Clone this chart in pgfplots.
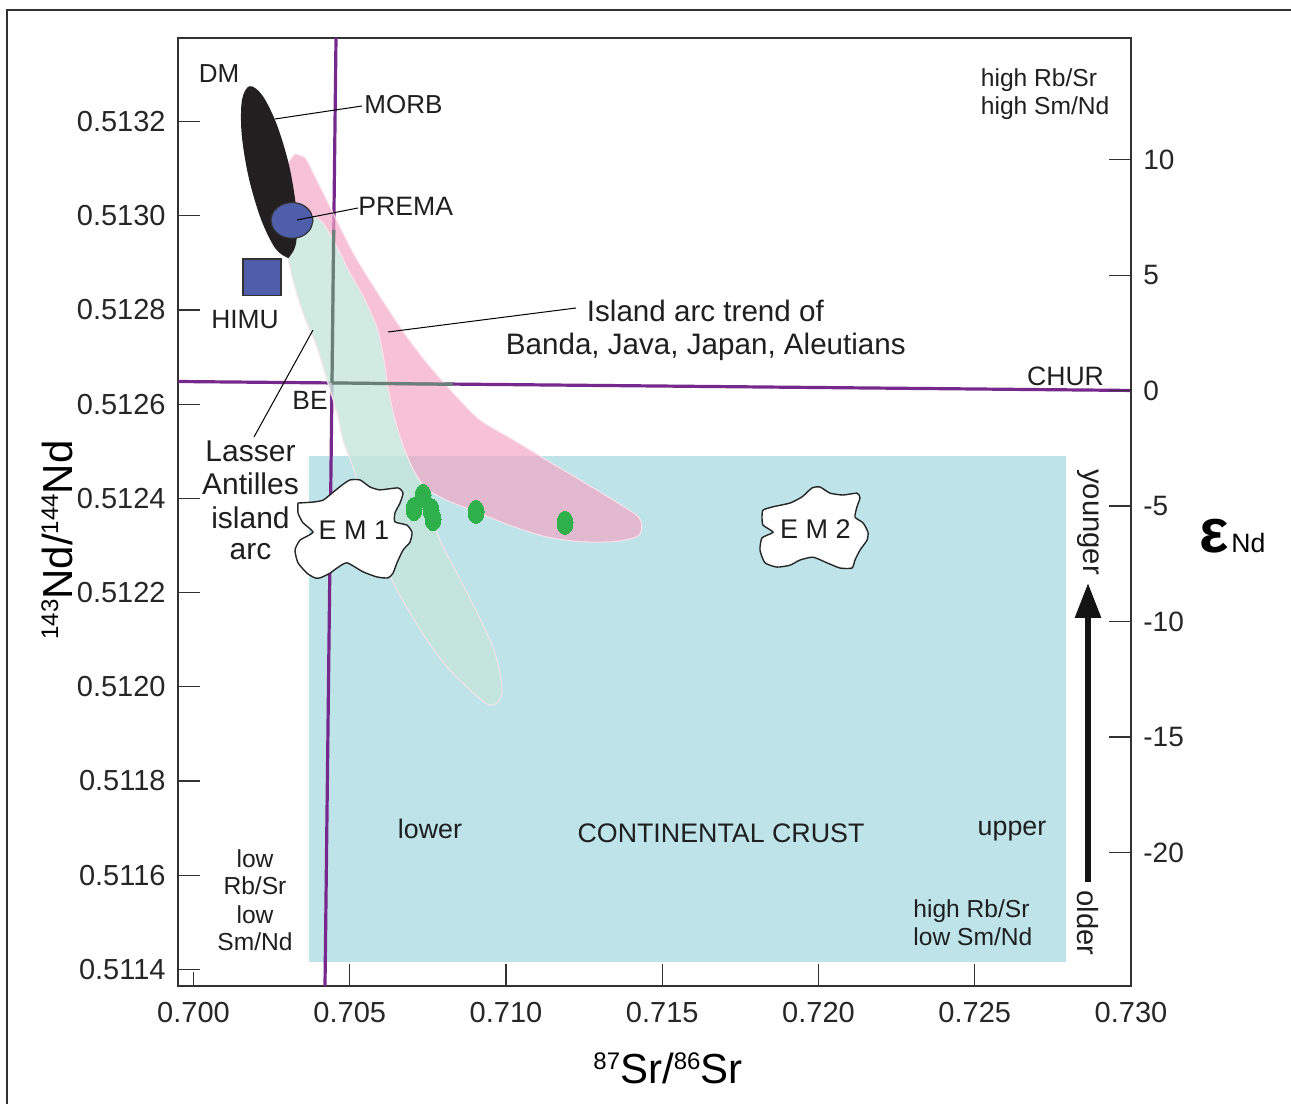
\documentclass[border=0pt]{standalone}
\usepackage{fontspec}
\setmainfont{Liberation Sans}
\usepackage{pgfplots}
\pgfplotsset{compat=1.18}
\usetikzlibrary{arrows.meta}

\newcommand\fs[1]{\fontsize{#1}{#1}\selectfont}

\definecolor{crust}{RGB}{190,228,234}
\definecolor{arcpink}{RGB}{244,168,196}
\definecolor{antmint}{RGB}{198,230,219}
\definecolor{rimline}{RGB}{250,226,234}
\definecolor{chur}{RGB}{118,40,140}
\definecolor{begray}{RGB}{105,128,118}
\definecolor{prema}{RGB}{79,94,170}
\definecolor{sample}{RGB}{46,177,75}
\definecolor{frame}{RGB}{50,50,50}
\definecolor{dm}{RGB}{35,31,32}

\begin{document}
\begin{tikzpicture}
\useasboundingbox (0pt,0pt) rectangle (645.5pt,552pt);

% ---- main axis: 87Sr/86Sr vs 143Nd/144Nd ----
\begin{axis}[
  at={(89pt,59pt)}, anchor=south west,
  width=476.5pt, height=474pt, scale only axis,
  xmin=0.699504, xmax=0.730,
  ymin=0.5113646, ymax=0.5133773,
  axis line style={frame, line width=0.85pt},
  tick style={frame, line width=0.6pt},
  tick align=inside, tick pos=left,
  major tick length=11pt,
  scaled x ticks=false, scaled y ticks=false,
  xtick={0.705,0.710,0.715,0.720,0.725},
  xticklabels={0.705,0.710,0.715,0.720,0.725},
  extra x ticks={0.700,0.730},
  extra x tick labels={0.700,0.730},
  extra x tick style={major tick length=7pt},
  ytick={0.5114,0.5116,0.5118,0.5120,0.5122,0.5124,0.5126,0.5128,0.5130,0.5132},
  yticklabels={0.5114,0.5116,0.5118,0.5120,0.5122,0.5124,0.5126,0.5128,0.5130,0.5132},
  ticklabel style={font=\fs{14.5pt}, text=black!85},
  xticklabel style={anchor=north, inner sep=0pt, yshift=-8pt},
  yticklabel style={anchor=east, inner sep=0pt, xshift=-6pt},
]

% continental crust field
\addplot[fill=crust, draw=none] coordinates {
  (0.703680,0.511416) (0.727904,0.511416) (0.727904,0.512490) (0.703680,0.512490)} -- cycle;

% reference lines: bulk earth Sr and CHUR
\addplot[chur, line width=1.6pt] coordinates {(0.704560,0.5133773) (0.704208,0.5113646)};
\addplot[chur, line width=1.6pt] coordinates {(0.699504,0.512648) (0.730000,0.512629)};

% island arc trend (Banda, Java, Japan, Aleutians)
\addplot[fill=arcpink, fill opacity=0.7, draw=rimline, line width=0.5pt, smooth, tension=0.45] coordinates {
  (0.703248,0.513131) (0.703568,0.513123) (0.703834,0.513090) (0.704368,0.513019)
  (0.705114,0.512920) (0.705968,0.512828) (0.706822,0.512743) (0.707568,0.512679)
  (0.708314,0.512623) (0.709168,0.512566) (0.710234,0.512524) (0.711302,0.512481)
  (0.712368,0.512439) (0.713434,0.512396) (0.714234,0.512361) (0.714342,0.512336)
  (0.714182,0.512318) (0.713434,0.512308) (0.712368,0.512308) (0.711302,0.512318)
  (0.710234,0.512340) (0.709168,0.512368) (0.708102,0.512396) (0.707354,0.512425)
  (0.707034,0.512460) (0.706714,0.512510) (0.706448,0.512566) (0.706234,0.512630)
  (0.706074,0.512701) (0.705862,0.512764) (0.705434,0.512828) (0.705008,0.512878)
  (0.704582,0.512934) (0.704048,0.512991) (0.703248,0.513012) (0.702864,0.513050)
  (0.702896,0.513086) (0.703088,0.513118) (0.703248,0.513131)} -- cycle;

% Lesser Antilles island arc field
\addplot[fill=antmint, fill opacity=0.8, draw=rimline, line width=0.5pt, smooth, tension=0.45] coordinates {
  (0.703088,0.513008) (0.703248,0.513012) (0.704048,0.512991) (0.704582,0.512934)
  (0.705008,0.512878) (0.705434,0.512828) (0.705862,0.512764) (0.706074,0.512701)
  (0.706234,0.512630) (0.706448,0.512566) (0.706714,0.512510) (0.707034,0.512460)
  (0.707354,0.512425) (0.707504,0.512382) (0.707888,0.512311) (0.708432,0.512241)
  (0.709072,0.512157) (0.709584,0.512084) (0.709808,0.512029) (0.709872,0.511987)
  (0.709712,0.511965) (0.709392,0.511963) (0.708752,0.511999) (0.708112,0.512042)
  (0.707472,0.512099) (0.706928,0.512157) (0.706512,0.512205) (0.706128,0.512258)
  (0.705712,0.512333) (0.705392,0.512403) (0.705104,0.512466) (0.704784,0.512524)
  (0.704592,0.512581) (0.704272,0.512651) (0.703952,0.512721) (0.703504,0.512793)
  (0.703184,0.512863) (0.702992,0.512921) (0.702896,0.512959) (0.703088,0.513008)} -- cycle;

% line segments inside the arc fields
\addplot[begray, line width=1.6pt] coordinates {(0.704486,0.512970) (0.704432,0.512645)};
\addplot[begray, line width=1.6pt] coordinates {(0.704432,0.512645) (0.708304,0.512642)};

% DM / MORB field
\addplot[fill=dm, draw=none, smooth, tension=0.55] coordinates {
  (0.703034,0.512910) (0.703280,0.512940) (0.703293,0.513010) (0.703072,0.513103)
  (0.702675,0.513192) (0.702208,0.513255) (0.701798,0.513275) (0.701552,0.513246)
  (0.701539,0.513175) (0.701760,0.513083) (0.702157,0.512993) (0.702624,0.512930)
  (0.703034,0.512910)} -- cycle;

% PREMA
\addplot[fill=prema, draw=frame, line width=0.6pt, smooth, tension=0.55] coordinates {
  (0.703824,0.512990) (0.703734,0.513009) (0.703488,0.513023) (0.703152,0.513028)
  (0.702816,0.513023) (0.702570,0.513009) (0.702480,0.512990) (0.702570,0.512971)
  (0.702816,0.512957) (0.703152,0.512952) (0.703488,0.512957) (0.703734,0.512971)
  (0.703824,0.512990)} -- cycle;

% HIMU
\addplot[fill=prema, draw=frame, line width=0.6pt] coordinates {
  (0.701584,0.512830) (0.702800,0.512830) (0.702800,0.512908) (0.701584,0.512908)} -- cycle;

% EM 1
\addplot[fill=white, draw=black!85, line width=0.7pt, smooth, tension=0.35] coordinates {
  (0.703344,0.512390) (0.703824,0.512392) (0.704144,0.512396) (0.704432,0.512411)
  (0.704752,0.512428) (0.705008,0.512439) (0.705328,0.512439) (0.705648,0.512424)
  (0.705968,0.512418) (0.706544,0.512422) (0.706704,0.512411) (0.706608,0.512390)
  (0.706448,0.512369) (0.706448,0.512350) (0.706832,0.512343) (0.706992,0.512328)
  (0.706928,0.512307) (0.706704,0.512290) (0.706512,0.512263) (0.706384,0.512241)
  (0.706224,0.512231) (0.705872,0.512233) (0.705424,0.512244) (0.704912,0.512263)
  (0.704592,0.512252) (0.704368,0.512241) (0.704048,0.512231) (0.703888,0.512231)
  (0.703632,0.512241) (0.703344,0.512263) (0.703248,0.512290) (0.703408,0.512311)
  (0.703824,0.512328) (0.703504,0.512348) (0.703344,0.512369) (0.703344,0.512390)} -- cycle;

% EM 2
\addplot[fill=white, draw=black!85, line width=0.7pt, smooth, tension=0.35] coordinates {
  (0.718192,0.512360) (0.718224,0.512375) (0.718544,0.512382) (0.719088,0.512390)
  (0.719472,0.512403) (0.719792,0.512422) (0.720048,0.512424) (0.720368,0.512411)
  (0.720784,0.512407) (0.721232,0.512411) (0.721328,0.512401) (0.721232,0.512382)
  (0.721168,0.512360) (0.721424,0.512348) (0.721584,0.512328) (0.721552,0.512311)
  (0.721328,0.512290) (0.721168,0.512269) (0.721072,0.512252) (0.720688,0.512252)
  (0.720272,0.512263) (0.719824,0.512275) (0.719408,0.512269) (0.719088,0.512258)
  (0.718672,0.512254) (0.718288,0.512263) (0.718128,0.512290) (0.718192,0.512316)
  (0.718544,0.512328) (0.718224,0.512343) (0.718192,0.512360)} -- cycle;

% samples
\addplot[color=sample, only marks, mark=*, mark size=4pt,
         mark options={fill=sample, draw=sample, line width=0pt, yscale=1.45}] coordinates {
  (0.707056,0.512377) (0.707344,0.512405) (0.707600,0.512375) (0.707664,0.512356)
  (0.709040,0.512371) (0.711888,0.512348)};
\end{axis}

% ---- epsilon Nd scale on the right ----
\begin{axis}[
  at={(89pt,59pt)}, anchor=south west,
  width=476.5pt, height=474pt, scale only axis,
  xmin=0, xmax=1, ymin=-25.787, ymax=15.276,
  hide x axis, axis y line*=right,
  axis line style={frame, line width=0.85pt},
  tick style={frame, line width=0.6pt},
  tick align=inside, major tick length=11pt,
  ytick={-20,-15,-10,-5,0,5,10},
  yticklabels={-20,-15,-10,-5,0,5,10},
  yticklabel style={font=\fs{14pt}, text=black!85, anchor=west, inner sep=0pt, xshift=6pt},
]
\addplot[draw=none] coordinates {(0.5,0)};
\end{axis}

% ---- labels and annotations (pixel-like units, y downward) ----
\begin{scope}[x=0.5pt, y=-0.5pt, shift={(0pt,552pt)}]
  \draw[frame, line width=1.3pt] (1291,10) -- (7,10) -- (7,1104);

  \draw[black, line width=0.5pt] (275,119) -- (362,106);
  \draw[black, line width=0.5pt] (297,220) -- (358,208);
  \draw[black, line width=0.5pt] (388,332) -- (576,308);
  \draw[black, line width=0.5pt] (313,330) -- (254,437);

  \begin{scope}[every node/.style={inner sep=0pt, text=black!88}]
  \node[anchor=base, font=\fs{13pt}] at (219,82.5) {DM};
  \node[anchor=base west, font=\fs{13pt}] at (364,114) {MORB};
  \node[anchor=base west, font=\fs{13.3pt}] at (358,216) {PREMA};
  \node[anchor=base, font=\fs{13.2pt}] at (245,328.3) {HIMU};
  \node[anchor=base, font=\fs{13.2pt}] at (310,410) {BE};
  \node[anchor=base, font=\fs{13.3pt}] at (1065.5,386) {CHUR};

  \node[anchor=base west, font=\fs{14.8pt}] at (586.5,321.7) {Island arc trend of};
  \node[anchor=base west, font=\fs{14.8pt}] at (505.5,355) {Banda, Java, Japan, Aleutians};

  \node[anchor=base, font=\fs{15pt}] at (250.5,461.7) {Lasser};
  \node[anchor=base, font=\fs{15pt}] at (250.5,495) {Antilles};
  \node[anchor=base, font=\fs{15pt}] at (250.5,528.3) {island};
  \node[anchor=base, font=\fs{15pt}] at (250.5,560) {arc};

  \node[anchor=base, font=\fs{13.5pt}] at (354,540) {E M 1};
  \node[anchor=base, font=\fs{13.5pt}] at (815.3,538.3) {E M 2};

  \node[anchor=base west, font=\fs{12.3pt}] at (980.5,86.7) {high Rb/Sr};
  \node[anchor=base west, font=\fs{12.3pt}] at (980.5,115) {high Sm/Nd};

  \node[anchor=base, font=\fs{12.3pt}] at (255,868) {low};
  \node[anchor=base, font=\fs{12.3pt}] at (255,895) {Rb/Sr};
  \node[anchor=base, font=\fs{12.3pt}] at (255,923) {low};
  \node[anchor=base, font=\fs{12.3pt}] at (255,950) {Sm/Nd};

  \node[anchor=base, font=\fs{13.4pt}] at (430,839) {lower};
  \node[anchor=base, font=\fs{13.4pt}] at (721,842.5) {CONTINENTAL CRUST};
  \node[anchor=base, font=\fs{13.4pt}] at (1012,836) {upper};

  \node[anchor=base west, font=\fs{12.3pt}] at (913,918) {high Rb/Sr};
  \node[anchor=base west, font=\fs{12.3pt}] at (913,945) {low Sm/Nd};

  \node[rotate=-90, font=\fs{14.6pt}] at (1088,522) {younger};
  \node[rotate=-90, font=\fs{14.6pt}] at (1088,923) {older};
  \end{scope}

  \draw[black!92, line width=3pt, -{Triangle[length=17.5pt, width=12.5pt]}] (1088,882) -- (1088,583);

  % axis titles
  \node[rotate=90, inner sep=0pt, font=\fs{21pt}] at (57,540)
    {\raisebox{7pt}{\fs{12pt}143}Nd/\raisebox{7pt}{\fs{12pt}144}Nd};
  \node[inner sep=0pt, font=\fs{21pt}] at (668,1068)
    {\raisebox{7pt}{\fs{12pt}87}Sr/\raisebox{7pt}{\fs{12pt}86}Sr};
  \node[anchor=base west, inner sep=0pt, font=\fs{31pt}\bfseries] at (1199,553) {ε};
  \node[anchor=base west, inner sep=0pt, font=\fs{13.3pt}] at (1231,553) {Nd};
\end{scope}
\end{tikzpicture}
\end{document}
